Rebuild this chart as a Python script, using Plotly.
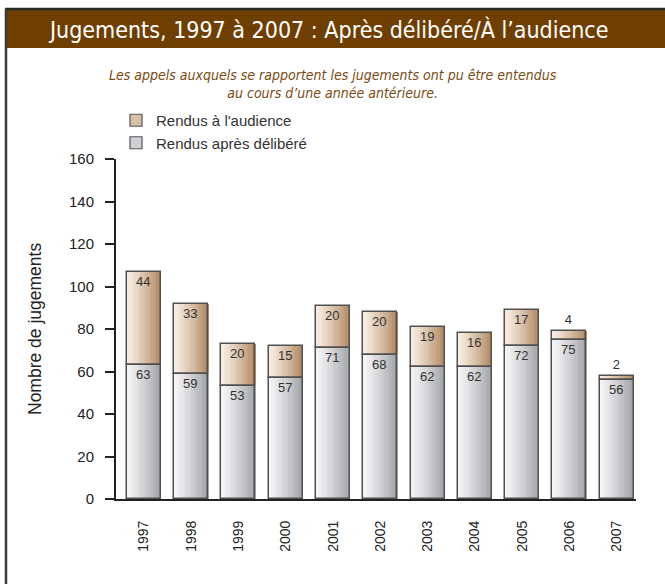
import plotly.graph_objects as go

years = ["1997", "1998", "1999", "2000", "2001", "2002", "2003", "2004", "2005", "2006", "2007"]
apres_delibere = [63, 59, 53, 57, 71, 68, 62, 62, 72, 75, 56]
a_audience = [44, 33, 20, 15, 20, 20, 19, 16, 17, 4, 2]
yticks = [0, 20, 40, 60, 80, 100, 120, 140, 160]

W, H = 665, 584
L, R, T, B = 116, 29, 159, 85
pw, ph = W - L - R, H - T - B

def px(x):
    return (x - L) / pw

def py(y):
    return (H - B - y) / ph

def lerp(c1, c2, t):
    return "rgb(%d,%d,%d)" % tuple(round(a + (b - a) * t) for a, b in zip(c1, c2))

fig = go.Figure()

BW = 0.72
N = 14
sw = BW / N
gray_l, gray_r = (246, 246, 247), (160, 161, 166)
tan_l, tan_r = (248, 238, 228), (176, 134, 94)

xs = list(range(len(years)))

for seg, (vals, base, cl, cr, name, rank) in enumerate([
    (apres_delibere, [0] * len(years), gray_l, gray_r, "Rendus après délibéré", 2),
    (a_audience, apres_delibere, tan_l, tan_r, "Rendus à l'audience", 1),
]):
    for i in range(N):
        t = (i + 0.5) / N
        fig.add_trace(go.Bar(
            x=xs, y=vals, base=base,
            width=sw * 1.15, offset=-BW / 2 + i * sw,
            marker=dict(color=lerp(cl, cr, t ** 1.2), line=dict(width=0)),
            hoverinfo="skip",
            showlegend=False,
        ))
    # legend entry
    fig.add_trace(go.Bar(
        x=[None], y=[None], name=name, legendrank=rank,
        marker=dict(color=lerp(cl, cr, 0.45), line=dict(color="#555555", width=1.2)),
        showlegend=True,
    ))

# outlines + labels
fig.add_trace(go.Bar(
    x=xs, y=apres_delibere, base=[0] * len(years), width=BW,
    marker=dict(color="rgba(0,0,0,0)", line=dict(color="#505050", width=1.5)),
    text=[str(v) for v in apres_delibere], textposition="inside",
    insidetextanchor="end", constraintext="none",
    insidetextfont=dict(color="#333333", size=13, family="Liberation Sans"),
    showlegend=False, hoverinfo="skip",
))
top_pos = ["inside" if v >= 10 else "outside" for v in a_audience]
fig.add_trace(go.Bar(
    x=xs, y=a_audience, base=apres_delibere, width=BW,
    marker=dict(color="rgba(0,0,0,0)", line=dict(color="#505050", width=1.5)),
    text=[str(v) for v in a_audience], textposition=top_pos,
    insidetextanchor="end", constraintext="none", cliponaxis=False,
    insidetextfont=dict(color="#333333", size=13, family="Liberation Sans"),
    outsidetextfont=dict(color="#333333", size=13, family="Liberation Sans"),
    showlegend=False, hoverinfo="skip",
))

shapes = [
    dict(type="rect", xref="paper", yref="paper", x0=px(6), x1=px(670), y0=py(48), y1=py(10),
         fillcolor="#6f3f02", line=dict(width=0), layer="below"),
    dict(type="line", xref="paper", yref="paper", x0=px(5), x1=px(670), y0=py(9), y1=py(9),
         line=dict(color="#2a2a2a", width=2.5)),
    dict(type="line", xref="paper", yref="paper", x0=px(6), x1=px(6), y0=py(9), y1=py(590),
         line=dict(color="#3a3a3a", width=2.5)),
]

annotations = [
    dict(text="Jugements, 1997 à 2007 : Après délibéré/À l’audience", xref="paper", yref="paper",
         x=px(328), y=py(29), xanchor="center", yanchor="middle", showarrow=False,
         font=dict(family="Liberation Sans Narrow, DejaVu Sans Condensed", size=23, color="white")),
    dict(text="<i>Les appels auxquels se rapportent les jugements ont pu être entendus<br>au cours d’une année antérieure.</i>",
         xref="paper", yref="paper", x=px(333), y=py(84), xanchor="center", yanchor="middle",
         showarrow=False,
         font=dict(family="Liberation Sans Narrow, DejaVu Sans Condensed", size=14, color="#7a4a10")),
    dict(text="Nombre de jugements", xref="paper", yref="paper", x=px(35), y=py(329),
         xanchor="center", yanchor="middle",
         textangle=-90, showarrow=False,
         font=dict(family="Liberation Sans", size=17.5, color="#222222")),
]

fig.update_layout(
    width=W, height=H,
    margin=dict(l=L, r=R, t=T, b=B, autoexpand=False),
    paper_bgcolor="white", plot_bgcolor="white",
    barmode="overlay", bargap=0,
    shapes=shapes, annotations=annotations,
    showlegend=True,
    legend=dict(x=px(116), y=py(104), xanchor="left", yanchor="top",
                font=dict(family="Liberation Sans", size=15, color="#333333"),
                bgcolor="rgba(0,0,0,0)", itemwidth=30, tracegroupgap=0),
    font=dict(family="Liberation Sans", color="#222222"),
)

fig.update_xaxes(
    tickmode="array", tickvals=xs, ticktext=years, tickangle=-90,
    range=[-0.59, 10.41], showgrid=False, zeroline=False,
    showline=True, linecolor="#222222", linewidth=2, ticks="",
    tickfont=dict(size=14, color="#222222"), ticklabelstandoff=14,
)
fig.update_yaxes(
    range=[0, 160], tickvals=yticks, showgrid=False, zeroline=False,
    showline=True, linecolor="#222222", linewidth=2,
    ticks="outside", ticklen=9, tickwidth=2, tickcolor="#222222",
    tickfont=dict(size=15, color="#222222"), ticklabelstandoff=8,
)

fig.write_html("out.html", config={"displayModeBar": False},
               post_script="document.body.style.margin='0px';document.body.style.overflow='hidden';")
